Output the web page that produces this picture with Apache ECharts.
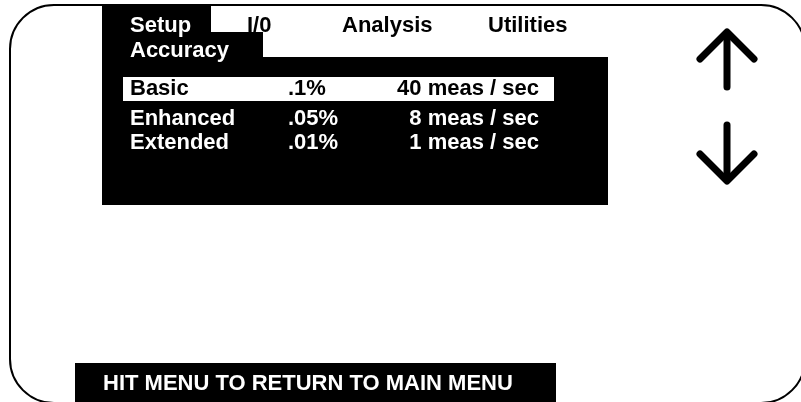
<!DOCTYPE html>
<html lang="en">
<head>
    <meta charset="UTF-8">
    <title>Accuracy</title>
</head>
<style>
    html, body{
        margin: 0;
        padding: 0;
        background-color: #fff;
    }
    .main{
        width: 801px;
        height: 402px;
    }
</style>
<body>
<div id="main" class="main"></div>
<script src="https://cdn.jsdelivr.net/npm/echarts@6/dist/echarts.min.js"></script>
<script>
    // menu screen data
    var tabs = ['Setup', 'I/0', 'Analysis', 'Utilities'];
    var tabX = [130, 247, 342, 488];
    var subTitle = 'Accuracy';
    var modes = ['Basic', 'Enhanced', 'Extended'];
    var accuracy = ['.1%', '.05%', '.01%'];
    var speeds = ['40 meas / sec', '8 meas / sec', '1 meas / sec'];
    var selected = 0;
    var footer = 'HIT MENU TO RETURN TO MAIN MENU';

    var font = '"Liberation Sans", Arial, sans-serif';
    var rowY = [89, 119, 143];

    function txt(s, x, y, color, align) {
        return {
            type: 'text',
            x: x,
            y: y,
            style: {
                text: s,
                fill: color,
                font: 'bold 22px ' + font,
                align: align || 'left',
                verticalAlign: 'middle'
            }
        };
    }

    var g = [];
    // black panel
    g.push({type: 'rect', shape: {x: 102, y: 5, width: 506, height: 200}, style: {fill: '#000'}});
    // white tab area
    g.push({type: 'rect', shape: {x: 211, y: 5, width: 397, height: 27}, style: {fill: '#fff'}});
    g.push({type: 'rect', shape: {x: 263, y: 5, width: 345, height: 52}, style: {fill: '#fff'}});

    for (var i = 0; i < tabs.length; i++) {
        g.push(txt(tabs[i], tabX[i], 26, i == 0 ? '#fff' : '#000'));
    }
    g.push(txt(subTitle, 130, 51, '#fff'));

    for (var j = 0; j < modes.length; j++) {
        var c = '#fff';
        if (j == selected) {
            g.push({type: 'rect', shape: {x: 123, y: rowY[j] - 12, width: 431, height: 24}, style: {fill: '#fff'}});
            c = '#000';
        }
        g.push(txt(modes[j], 130, rowY[j], c));
        g.push(txt(accuracy[j], 288, rowY[j], c));
        g.push(txt(speeds[j], 539, rowY[j], c, 'right'));
    }

    // footer bar
    g.push({type: 'rect', shape: {x: 75, y: 363, width: 481, height: 45}, style: {fill: '#000'}});
    g.push(txt(footer, 103, 384, '#fff'));

    // arrows
    var arrowStyle = {stroke: '#000', lineWidth: 7, lineCap: 'round', lineJoin: 'round', fill: null};
    g.push({type: 'polyline', shape: {points: [[700, 59], [727, 32], [754, 59]]}, style: arrowStyle});
    g.push({type: 'line', shape: {x1: 727, y1: 33, x2: 727, y2: 87}, style: arrowStyle});
    g.push({type: 'polyline', shape: {points: [[700, 154], [727, 181], [754, 154]]}, style: arrowStyle});
    g.push({type: 'line', shape: {x1: 727, y1: 125, x2: 727, y2: 180}, style: arrowStyle});

    // outer rounded frame
    g.push({type: 'rect', shape: {x: 10, y: 5, width: 795, height: 398, r: 44},
        style: {fill: null, stroke: '#000', lineWidth: 2}});

    var app = echarts.init(document.getElementById('main'));
    app.setOption({
        animation: false,
        graphic: {elements: g}
    });
</script>
</body>
</html>
